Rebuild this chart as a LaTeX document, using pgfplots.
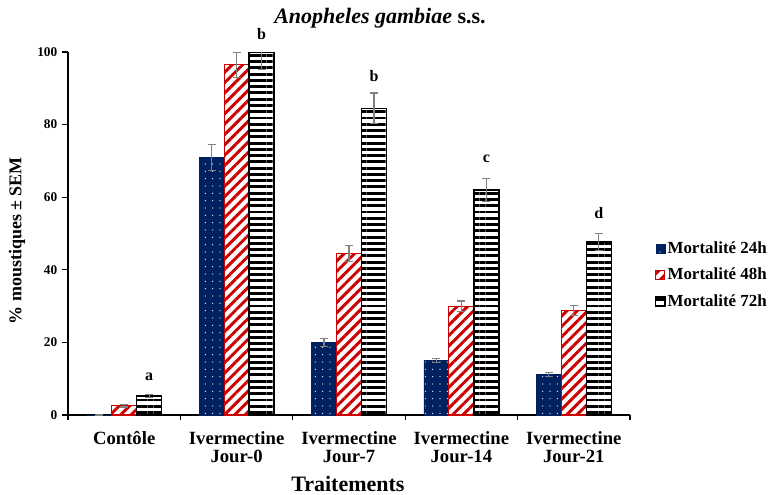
\documentclass[border=0pt]{standalone}
\usepackage{fontspec}
\setmainfont{Liberation Serif}
\usepackage{pgfplots}
\pgfplotsset{compat=1.18}
\usetikzlibrary{patterns.meta}
\definecolor{navyb}{RGB}{0,32,96}
\definecolor{redb}{RGB}{204,0,0}
\definecolor{errg}{RGB}{128,128,128}
\begin{document}
\begin{tikzpicture}
\path[use as bounding box] (-51pt,-59.25pt) rectangle (526.5pt,311.25pt);
\begin{axis}[
  at={(0pt,0pt)}, anchor=south west,
  scale only axis, width=421.5pt, height=272.25pt,
  ybar=0pt, bar width=0.2225,
  xmin=-0.5, xmax=4.5, ymin=0, ymax=100,
  axis lines*=left,
  axis line style={-, line width=1pt, black},
  clip mode=individual,
  xtick={0,1,2,3,4},
  xticklabels={Contôle, {Ivermectine\\Jour-0}, {Ivermectine\\Jour-7}, {Ivermectine\\Jour-14}, {Ivermectine\\Jour-21}},
  minor xtick={-0.5,0.5,1.5,2.5,3.5,4.5},
  major x tick style={draw=none},
  minor x tick style={line width=1pt, black},
  minor tick length=3.75pt,
  xtick align=outside,
  xticklabel style={font=\bfseries\fontsize{14}{13.5}\selectfont, align=center, yshift=-4pt},
  ytick={0,20,40,60,80,100},
  ytick align=outside,
  major tick length=4.5pt,
  major y tick style={line width=1pt, black},
  yticklabel style={font=\bfseries\fontsize{10}{12}\selectfont},
  /pgf/number format/assume math mode=true,
  ylabel={\% moustiques ± SEM},
  ylabel style={font=\bfseries\fontsize{13.5}{16}\selectfont, at={(axis description cs:-0.0907,0.48)}, anchor=center},
  xlabel={Traitements},
  xlabel style={font=\bfseries\fontsize{16.5}{18}\selectfont, at={(axis description cs:0.498,0)}, yshift=-51.5pt, anchor=center},
  legend style={at={(axis description cs:1.044,0.386)}, anchor=west, draw=none, fill=none,
    font=\bfseries\fontsize{12.7}{14}\selectfont, row sep=6.5pt, inner sep=0pt,
    nodes={inner sep=1.5pt}},
  legend cell align=left,
  legend image code/.code={\draw[#1] (0pt,-3.4pt) rectangle (6.8pt,3.4pt);},
  error bars/y dir=both, error bars/y explicit,
  error bars/error bar style={errg, line width=0.8pt},
  error bars/error mark options={rotate=90, mark size=3pt, errg, line width=0.8pt},
]
\addplot[draw=navyb, line width=0.3pt, fill=navyb,
  postaction={pattern={Dots[distance=5.5pt, radius=0.45pt]}, pattern color=white}]
  coordinates {(0,0) +- (0,0) (1,71) +- (0,3.6) (2,20) +- (0,1.0) (3,15) +- (0,0.6) (4,11.2) +- (0,0.5)};
\addplot[draw=redb, line width=0.8pt, fill=white,
  postaction={pattern={Lines[angle=45, distance=5.5pt, line width=2.2pt]}, pattern color=redb}]
  coordinates {(0,2.5) +- (0,0.3) (1,96.5) +- (0,3.5) (2,44.6) +- (0,2.2) (3,30) +- (0,1.4) (4,28.7) +- (0,1.4)};
\addplot[draw=black, line width=1.1pt, fill=white,
  postaction={pattern={Lines[angle=0, distance=4.7pt, line width=2.2pt]}, pattern color=black}]
  coordinates {(0,5.3) +- (0,0.4) (1,100) +- (0,4.7) (2,84.5) +- (0,4.2) (3,62) +- (0,3.1) (4,47.6) +- (0,2.3)};
\legend{Mortalité 24h, Mortalité 48h, Mortalité 72h}
\node[font=\bfseries\fontsize{12}{14}\selectfont] at (axis cs:0.2225,10.5) {a};
\node[font=\bfseries\fontsize{12}{14}\selectfont] at (axis cs:1.2225,105) {b};
\node[font=\bfseries\fontsize{12}{14}\selectfont] at (axis cs:2.2225,93.4) {b};
\node[font=\bfseries\fontsize{12}{14}\selectfont] at (axis cs:3.2225,70.5) {c};
\node[font=\bfseries\fontsize{12}{14}\selectfont] at (axis cs:4.2225,55.7) {d};
\end{axis}
\node[font=\fontsize{16.5}{18}\selectfont] at (234pt,297.75pt) {\bfseries\itshape Anopheles gambiae \upshape s.s.};
\end{tikzpicture}
\end{document}
